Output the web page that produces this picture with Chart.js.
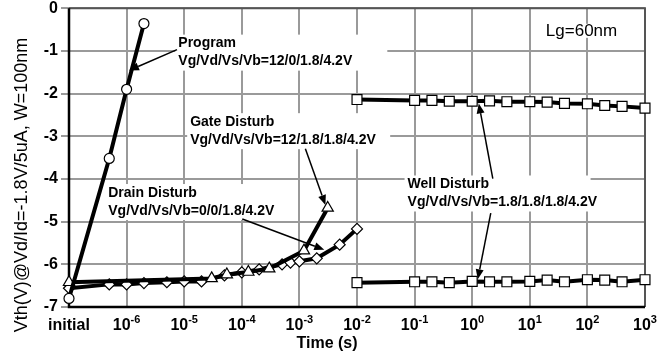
<!DOCTYPE html>
<html>
<head>
<meta charset="utf-8">
<script src="https://cdn.jsdelivr.net/npm/chart.js@4.4.1/dist/chart.umd.min.js"></script>
<style>
  html, body { margin: 0; padding: 0; background: #fff; }
  #wrap { width: 658px; height: 356px; }
</style>
</head>
<body>
<div id="wrap"><canvas id="vthChart" width="658" height="356"></canvas></div>
<script>
// --- Axis ticks ("initial" sits one decade left of 1e-6) ---
const xTicks = [1e-7, 1e-6, 1e-5, 1e-4, 1e-3, 1e-2, 1e-1, 1e0, 1e1, 1e2, 1e3];
const xTickLabels = ['initial', '-6', '-5', '-4', '-3', '-2', '-1', '0', '1', '2', '3'];
const yTicks = [0, -1, -2, -3, -4, -5, -6, -7];

// --- Program (circles) ---
const progTime = [1e-7, 5e-7, 1e-6, 2e-6];
const progVth = [-6.8, -3.52, -1.9, -0.36];

// --- Gate disturb (triangles) ---
const gateTime = [1e-7, 3e-5, 5.5e-5, 1.3e-4, 3e-4, 1.2e-3, 3.1e-3];
const gateVth = [-6.42, -6.33, -6.24, -6.18, -6.1, -5.68, -4.68];

// --- Drain disturb (diamonds) ---
const drainTime = [1e-7, 5e-7, 1e-6, 2e-6, 5e-6, 1e-5, 2e-5, 5e-5, 1e-4, 2e-4, 5e-4, 7e-4, 1e-3, 2e-3, 5e-3, 1e-2];
const drainVth = [-6.56, -6.47, -6.47, -6.44, -6.42, -6.4, -6.4, -6.26, -6.19, -6.12, -6.0, -5.96, -5.93, -5.86, -5.54, -5.17];

// --- Well disturb (squares), programmed and erased cells ---
const wellTime = [1e-2, 1e-1, 2e-1, 4e-1, 1, 2, 4, 10, 20, 40, 100, 200, 400, 1000];
const wellHighVth = [-2.14, -2.16, -2.16, -2.18, -2.18, -2.17, -2.19, -2.19, -2.2, -2.23, -2.24, -2.28, -2.3, -2.34];
const wellLowVth = [-6.43, -6.41, -6.41, -6.43, -6.4, -6.41, -6.41, -6.4, -6.37, -6.41, -6.36, -6.37, -6.41, -6.36];

// --- Annotations, in data units (time, Vth) ---
const labels = [
  { t: 7.9e-6, v: -0.83, lines: ['Program', 'Vg/Vd/Vs/Vb=12/0/1.8/4.2V'], boxW: 212 },
  { t: 1.27e-5, v: -2.67, lines: ['Gate Disturb', 'Vg/Vd/Vs/Vb=12/1.8/1.8/4.2V'], boxW: 203 },
  { t: 4.8e-7, v: -4.33, lines: ['Drain Disturb', 'Vg/Vd/Vs/Vb=0/0/1.8/4.2V'], boxW: 170 },
  { t: 0.0755, v: -4.13, lines: ['Well Disturb', 'Vg/Vd/Vs/Vb=1.8/1.8/1.8/4.2V'], boxW: 186 }
];
const arrows = [
  { from: [7.5e-6, -0.97], to: [1.1e-6, -1.46] },
  { from: [1.27e-3, -3.29], to: [2.83e-3, -4.61] },
  { from: [1.02e-4, -4.94], to: [2.7e-3, -5.66] },
  { from: [2.28, -3.99], to: [1.3, -2.23] },
  { from: [2.1, -4.8], to: [1.25, -6.35] }
];

const FONT = '"Liberation Sans", Arial, sans-serif';

function pts(ts, vs) {
  return ts.map((t, i) => ({ x: t, y: vs[i] }));
}

function series(data, style, radius) {
  return {
    data,
    borderColor: '#000',
    borderWidth: 4,
    pointStyle: style,
    pointRadius: radius,
    pointBackgroundColor: '#fff',
    pointBorderColor: '#000',
    pointBorderWidth: 1.2,
    tension: 0,
    clip: false
  };
}

function drawArrow(ctx, x1, y1, x2, y2) {
  const a = Math.atan2(y2 - y1, x2 - x1);
  const len = 10, half = 4;
  const bx = x2 - Math.cos(a) * len, by = y2 - Math.sin(a) * len;
  ctx.beginPath();
  ctx.moveTo(x1, y1);
  ctx.lineTo(bx, by);
  ctx.stroke();
  ctx.beginPath();
  ctx.moveTo(x2, y2);
  ctx.lineTo(bx - Math.sin(a) * half, by + Math.cos(a) * half);
  ctx.lineTo(bx + Math.sin(a) * half, by - Math.cos(a) * half);
  ctx.closePath();
  ctx.fill();
}

// --- Frame, text boxes, tick labels and arrows ---
const decorPlugin = {
  id: 'decor',
  beforeDatasetsDraw(chart) {
    const { ctx, chartArea: ca, scales: { x, y } } = chart;
    ctx.save();
    // text labels with white boxes over the grid
    ctx.font = 'bold 14px ' + FONT;
    ctx.textBaseline = 'middle';
    ctx.textAlign = 'left';
    labels.forEach(l => {
      const px = x.getPixelForValue(l.t), py = y.getPixelForValue(l.v);
      ctx.fillStyle = '#fff';
      ctx.fillRect(px - 3, py - 9, l.boxW, 36);
      ctx.fillStyle = '#000';
      l.lines.forEach((s, i) => ctx.fillText(s, px, py + i * 18));
    });
    // Lg label
    ctx.font = '17px ' + FONT;
    const lgx = x.getPixelForValue(19), lgy = y.getPixelForValue(-0.53);
    const lgw = ctx.measureText('Lg=60nm').width;
    ctx.fillStyle = '#fff';
    ctx.fillRect(lgx - 1, lgy - 7, lgw + 2, 14);
    ctx.fillStyle = '#000';
    ctx.fillText('Lg=60nm', lgx, lgy);
    // frame
    ctx.lineWidth = 2;
    ctx.strokeStyle = '#555';
    ctx.beginPath();
    ctx.moveTo(ca.left, ca.top);
    ctx.lineTo(ca.right, ca.top);
    ctx.lineTo(ca.right, ca.bottom);
    ctx.stroke();
    ctx.strokeStyle = '#000';
    ctx.lineWidth = 2.5;
    ctx.beginPath();
    ctx.moveTo(ca.left, ca.top);
    ctx.lineTo(ca.left, ca.bottom);
    ctx.lineTo(ca.right, ca.bottom);
    ctx.stroke();
    ctx.restore();
  },
  afterDatasetsDraw(chart) {
    const { ctx, scales: { x, y } } = chart;
    ctx.save();
    ctx.strokeStyle = '#000';
    ctx.fillStyle = '#000';
    ctx.lineWidth = 1.5;
    arrows.forEach(a => {
      drawArrow(ctx,
        x.getPixelForValue(a.from[0]), y.getPixelForValue(a.from[1]),
        x.getPixelForValue(a.to[0]), y.getPixelForValue(a.to[1]));
    });
    ctx.restore();
  },
  afterDraw(chart) {
    const { ctx, chartArea: ca, scales: { x } } = chart;
    ctx.save();
    ctx.fillStyle = '#000';
    ctx.textBaseline = 'middle';
    // x tick labels, 10 with a raised exponent
    xTicks.forEach((v, i) => {
      const px = x.getPixelForValue(v);
      const ty = ca.bottom + 19;
      if (i === 0) {
        ctx.font = 'bold 16px ' + FONT;
        ctx.textAlign = 'center';
        ctx.fillText(xTickLabels[i], px, ty);
        return;
      }
      ctx.font = 'bold 16px ' + FONT;
      const wBase = ctx.measureText('10').width;
      ctx.font = 'bold 11px ' + FONT;
      const wExp = ctx.measureText(xTickLabels[i]).width;
      const left = px - (wBase + wExp) / 2;
      ctx.textAlign = 'left';
      ctx.font = 'bold 16px ' + FONT;
      ctx.fillText('10', left, ty);
      ctx.font = 'bold 11px ' + FONT;
      ctx.fillText(xTickLabels[i], left + wBase, ty - 6);
    });
    // axis titles
    ctx.font = 'bold 16px ' + FONT;
    ctx.textAlign = 'center';
    ctx.fillText('Time (s)', 327, 344);
    ctx.translate(22, 185);
    ctx.rotate(-Math.PI / 2);
    ctx.font = '18px ' + FONT;
    ctx.fillText('Vth(V)@Vd/Id=-1.8V/5uA, W=100nm', 0, 0);
    ctx.restore();
  }
};

const ctx = document.getElementById('vthChart');

new Chart(ctx, {
  type: 'line',
  data: {
    datasets: [
      series(pts(progTime, progVth), 'circle', 5),
      series(pts(gateTime, gateVth), 'triangle', 6.5),
      series(pts(drainTime, drainVth), 'rectRot', 5.5),
      series(pts(wellTime, wellHighVth), 'rect', 7),
      series(pts(wellTime, wellLowVth), 'rect', 7)
    ]
  },
  options: {
    responsive: false,
    animation: false,
    devicePixelRatio: 1,
    layout: { padding: { top: 5, right: 13, left: 0, bottom: 0 } },
    plugins: { legend: { display: false }, tooltip: { enabled: false } },
    scales: {
      x: {
        type: 'logarithmic',
        min: 1e-7,
        max: 1e3,
        afterBuildTicks: s => { s.ticks = xTicks.map(v => ({ value: v })); },
        afterFit: s => { s.height = 49; },
        ticks: { display: false },
        grid: { color: '#9a9a9a', lineWidth: 2, drawTicks: false },
        border: { display: false }
      },
      y: {
        min: -7,
        max: 0,
        afterBuildTicks: s => { s.ticks = yTicks.map(v => ({ value: v })); },
        afterFit: s => { s.width = 69; },
        ticks: {
          color: '#000',
          padding: 3,
          font: { family: FONT, size: 16, weight: 'bold', lineHeight: 0.6 }
        },
        grid: { color: '#9a9a9a', lineWidth: 2, tickLength: 8 },
        border: { display: false }
      }
    }
  },
  plugins: [decorPlugin]
});
</script>
</body>
</html>
